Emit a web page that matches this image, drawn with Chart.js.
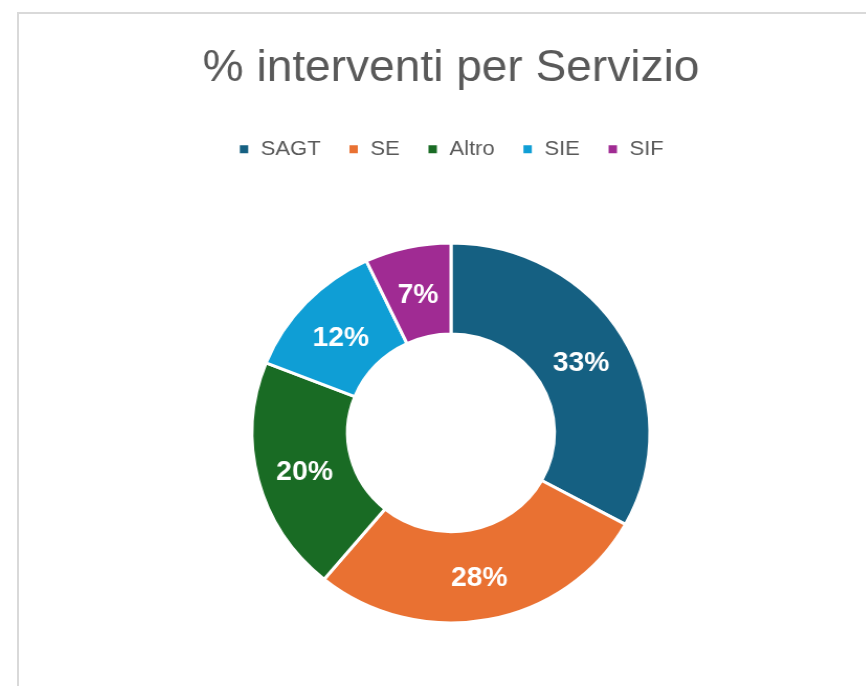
<!DOCTYPE html>
<html>
<head>
<meta charset="utf-8">
<script src="https://cdn.jsdelivr.net/npm/chart.js@4.4.1/dist/chart.umd.min.js"></script>
<style>
  html, body { margin: 0; padding: 0; background: #fff; overflow: hidden; }
  body { width: 866px; height: 686px; position: relative; }
  .frame {
    position: absolute; left: 17px; top: 12px; width: 900px; height: 720px;
    border: 2px solid #d9d9d9; box-sizing: border-box;
  }
  .wrap {
    position: absolute; left: 51px; top: 0; width: 800px; height: 696px;
    transform: scaleX(1.047); transform-origin: 50% 50%;
  }
</style>
</head>
<body>
<div class="frame"></div>
<div class="wrap"><canvas id="chart"></canvas></div>
<script>
const categories = ['SAGT', 'SE', 'Altro', 'SIE', 'SIF'];
const shares = [33, 28, 20, 12, 7];
const colors = ['#156082', '#E97132', '#196B24', '#0F9ED5', '#A02B93'];

const fontFamily = '"Liberation Sans", Arial, sans-serif';

// draws the percentage inside each slice
const sliceLabels = {
  id: 'sliceLabels',
  afterDatasetsDraw(chart) {
    const ctx = chart.ctx;
    const meta = chart.getDatasetMeta(0);
    ctx.save();
    ctx.fillStyle = '#ffffff';
    ctx.font = 'bold 27px ' + fontFamily;
    ctx.textAlign = 'center';
    ctx.textBaseline = 'middle';
    meta.data.forEach((arc, i) => {
      const pos = arc.tooltipPosition();
      ctx.fillText(chart.data.datasets[0].data[i] + '%', pos.x, pos.y + 4);
    });
    ctx.restore();
  }
};

const ctx = document.getElementById('chart').getContext('2d');
const chart = new Chart(ctx, {
  type: 'doughnut',
  data: {
    labels: categories,
    datasets: [{
      data: shares,
      backgroundColor: colors,
      borderColor: '#ffffff',
      borderWidth: 3,
      radius: 190,
      cutout: '52%'
    }]
  },
  options: {
    responsive: true,
    maintainAspectRatio: false,
    animation: false,
    plugins: {
      title: {
        display: true,
        text: '% interventi per Servizio',
        color: '#595959',
        font: { family: fontFamily, size: 44, weight: 'normal' },
        padding: { top: 42, bottom: 18 }
      },
      legend: {
        position: 'top',
        labels: {
          color: '#595959',
          font: { family: fontFamily, size: 21 },
          boxWidth: 11,
          boxHeight: 11,
          padding: 26
        }
      },
      tooltip: { enabled: false }
    }
  },
  plugins: [sliceLabels]
});
</script>
</body>
</html>
